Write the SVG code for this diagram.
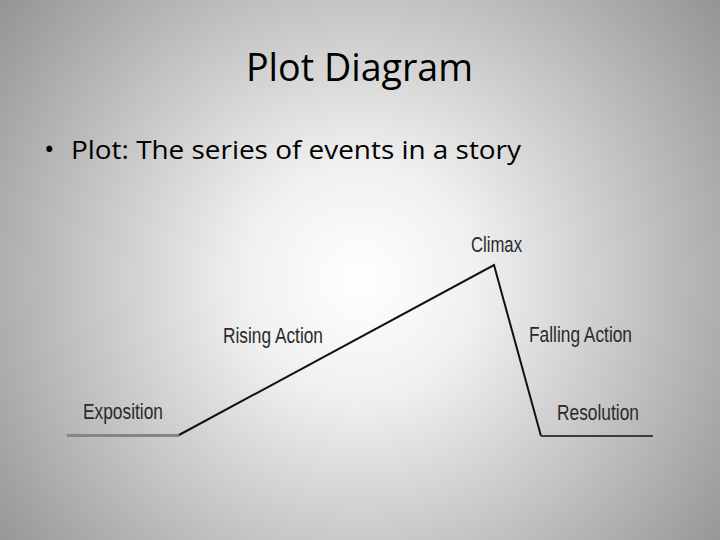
<svg xmlns="http://www.w3.org/2000/svg" width="720" height="540" viewBox="0 0 720 540">
<defs>
<radialGradient id="bg" cx="360" cy="280" r="470" gradientUnits="userSpaceOnUse">
<stop offset="0" stop-color="#ffffff"/>
<stop offset="0.25" stop-color="#f0f0f0"/>
<stop offset="1" stop-color="#909090"/>
</radialGradient>
</defs>
<style>
.lbl{font-family:"Liberation Sans Narrow","Liberation Sans",Arial,sans-serif;font-size:22px;fill:#2a2a2a}
.head{font-family:"Open Sans","Noto Sans",sans-serif;fill:#000}
.plotline{fill:none;stroke:#111;stroke-width:2}
</style>
<rect width="720" height="540" fill="url(#bg)"/>
<g id="title"><text class="head" x="246" y="81" font-size="38" textLength="227" lengthAdjust="spacingAndGlyphs">Plot Diagram</text></g>
<g id="bullet"><text class="head" x="44" y="159" font-size="28">•</text><text class="head" x="71" y="159" font-size="26" textLength="450" lengthAdjust="spacingAndGlyphs">Plot: The series of events in a story</text></g>
<g id="connectors">
<line x1="67" y1="435.5" x2="179" y2="435.5" stroke="#858585" stroke-width="3"/>
<polyline class="plotline" points="179,435 494,265 541,436"/>
<line x1="541" y1="436" x2="653" y2="436" stroke="#3c3c3c" stroke-width="2"/>
</g>
<g id="exposition"><text class="lbl" x="83" y="419" textLength="80" lengthAdjust="spacingAndGlyphs">Exposition</text></g>
<g id="rising-action"><text class="lbl" x="223" y="343" textLength="100" lengthAdjust="spacingAndGlyphs">Rising Action</text></g>
<g id="climax"><text class="lbl" x="471" y="252" textLength="51" lengthAdjust="spacingAndGlyphs">Climax</text></g>
<g id="falling-action"><text class="lbl" x="529" y="342" textLength="103" lengthAdjust="spacingAndGlyphs">Falling Action</text></g>
<g id="resolution"><text class="lbl" x="557" y="420" textLength="82" lengthAdjust="spacingAndGlyphs">Resolution</text></g>
</svg>
